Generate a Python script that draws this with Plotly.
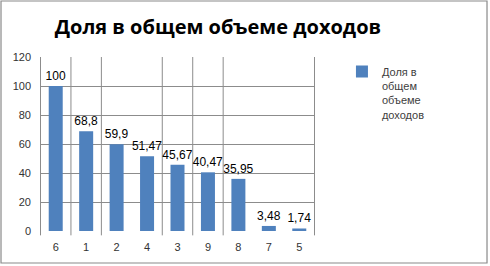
import plotly.graph_objects as go

categories = ["6", "1", "2", "4", "3", "9", "8", "7", "5"]
values = [100, 68.8, 59.9, 51.47, 45.67, 40.47, 35.95, 3.48, 1.74]
labels = ["100", "68,8", "59,9", "51,47", "45,67", "40,47", "35,95", "3,48", "1,74"]
series_name = "Доля в<br>общем<br>объеме<br>доходов"
title_text = "Доля в общем объеме доходов"
y_ticks = [0, 20, 40, 60, 80, 100, 120]
grid_boundaries = [-0.5, 0.5, 1.5, 3.5, 4.5, 5.5, 8.5]

BAR = "#4F81BD"
GRID = "#8C8C8C"
FONT = "Liberation Sans"

fig = go.Figure()
fig.add_trace(go.Bar(
    x=categories, y=values, name=series_name,
    marker=dict(color=BAR, line=dict(width=0)),
    width=0.46,
    text=labels, textposition="outside", cliponaxis=False, constraintext="none",
    textfont=dict(family=FONT, size=12, color="#000000"),
    showlegend=True,
))

shapes = []
for b in grid_boundaries:
    shapes.append(dict(type="line", xref="x", yref="paper", x0=b, x1=b, y0=-0.025, y1=1,
                       line=dict(color=GRID, width=1), layer="below"))
# outer chart border
shapes.append(dict(type="rect", xref="paper", yref="paper",
                   x0=-0.1418, x1=1.6255, y0=-0.1839, y1=1.3218,
                   line=dict(color="#8A8A8A", width=1.2), fillcolor="rgba(0,0,0,0)"))

fig.update_layout(
    width=490, height=266,
    margin=dict(l=40, r=175, t=57, b=35),
    paper_bgcolor="white", plot_bgcolor="white",
    uniformtext=dict(minsize=12, mode="show"),
    title=dict(text=title_text, x=0.647, xref="paper", xanchor="center",
               y=0.9, yanchor="middle",
               font=dict(family="Open Sans", size=20, color="#000000", weight="bold")),
    showlegend=True,
    legend=dict(x=1.098, y=0.995, xanchor="left", yanchor="top",
                font=dict(family=FONT, size=11, color="#404040"),
                itemwidth=30, valign="top", bgcolor="rgba(0,0,0,0)",
                tracegroupgap=0),
    bargap=0.54,
    shapes=shapes,
    font=dict(family=FONT, size=11, color="#404040"),
)
fig.update_xaxes(type="category", showgrid=False, showline=False, zeroline=False,
                 ticks="", ticklabelstandoff=8,
                 tickfont=dict(family=FONT, size=11, color="#333333"))
fig.update_yaxes(range=[0, 120], tickvals=y_ticks, showgrid=True, gridcolor=GRID, gridwidth=1,
                 zeroline=False, showline=False, ticks="", ticklabelstandoff=8,
                 tickfont=dict(family=FONT, size=11, color="#333333"))

fig.write_html("out.html")
